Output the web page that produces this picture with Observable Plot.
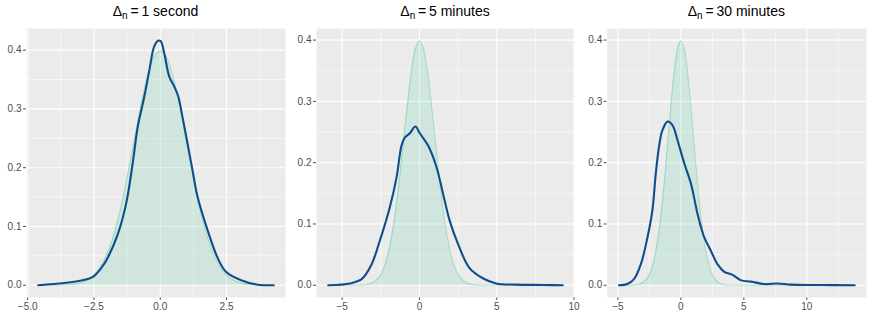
<!DOCTYPE html>
<html>
<head>
<meta charset="utf-8">
<script src="https://cdn.jsdelivr.net/npm/d3@7"></script>
<script src="https://cdn.jsdelivr.net/npm/@observablehq/plot@0.6"></script>
<style>
  html, body { margin: 0; padding: 0; background: #fff; }
  #root { position: relative; width: 872px; height: 317px; font-family: "Liberation Sans", Arial, sans-serif; }
  .panel { position: absolute; top: 0; }
  .title { position: absolute; top: 3px; font-size: 14px; font-weight: normal; color: #000; white-space: nowrap; transform: translateX(-50%); font-family: "Liberation Sans", Arial, sans-serif; }
  .title sub { font-size: 10px; vertical-align: -3px; line-height: 0; }
</style>
</head>
<body>
<div id="root"></div>
<script>
// Titles
const titles = ["1 second", "5 minutes", "30 minutes"];

// Reference standard normal density
const normalX = [-5, -4.5, -4, -3.75, -3.5, -3.25, -3, -2.75, -2.5, -2.25, -2, -1.75, -1.5, -1.25, -1, -0.75, -0.5, -0.25, 0,
                 0.25, 0.5, 0.75, 1, 1.25, 1.5, 1.75, 2, 2.25, 2.5, 2.75, 3, 3.25, 3.5, 3.75, 4, 4.5, 5, 6, 8, 10, 12, 14];
const normalY = [0, 0, 0.0001, 0.0004, 0.0009, 0.0020, 0.0044, 0.0091, 0.0175, 0.0317, 0.0540, 0.0863, 0.1295, 0.1826, 0.2420, 0.3011, 0.3521, 0.3867, 0.3989,
                 0.3867, 0.3521, 0.3011, 0.2420, 0.1826, 0.1295, 0.0863, 0.0540, 0.0317, 0.0175, 0.0091, 0.0044, 0.0020, 0.0009, 0.0004, 0.0001, 0, 0, 0, 0, 0, 0, 0];

// Empirical densities (blue curves)
const sec1X = [-4.6, -3.37, -2.93, -2.55, -2.23, -1.98, -1.6, -1.29, -1.04, -0.85, -0.6, -0.41, -0.23, -0.08, 0.02, 0.15, 0.34, 0.53, 0.68, 0.84, 1.03, 1.22, 1.41, 1.79, 2.16, 2.48, 3.05, 3.68, 4.28];
const sec1Y = [0, 0.005, 0.0085, 0.014, 0.029, 0.047, 0.087, 0.138, 0.207, 0.269, 0.321, 0.366, 0.406, 0.416, 0.415, 0.395, 0.355, 0.338, 0.321, 0.286, 0.241, 0.195, 0.15, 0.093, 0.047, 0.023, 0.0085, 0.001, 0];

const min5X = [-5.9, -4.5, -3.74, -3.1, -2.56, -1.92, -1.48, -1.16, -0.95, -0.62, -0.26, 0.02, 0.56, 1.1, 1.53, 1.96, 2.5, 3.24, 4.1, 4.96, 6.26, 7.98, 9.27];
const min5Y = [0, 0.003, 0.01, 0.034, 0.073, 0.127, 0.176, 0.228, 0.241, 0.248, 0.259, 0.248, 0.228, 0.193, 0.149, 0.105, 0.067, 0.028, 0.0115, 0.003, 0.001, 0.0005, 0];

const min30X = [-4.91, -4.25, -3.72, -3.18, -2.65, -2.26, -1.99, -1.72, -1.46, -1.06, -0.66, -0.27, 0.27, 0.8, 1.33, 1.86, 2.39, 2.92, 3.45, 4.11, 4.78, 5.57, 6.63, 7.69, 8.75, 10.9, 13.8];
const min30Y = [0, 0.002, 0.01, 0.034, 0.078, 0.122, 0.182, 0.228, 0.253, 0.267, 0.261, 0.237, 0.199, 0.166, 0.116, 0.078, 0.056, 0.034, 0.022, 0.017, 0.008, 0.006, 0.002, 0.003, 0.001, 0.0005, 0];

// Axis ticks
const yTicks = [0, 0.1, 0.2, 0.3, 0.4];
const yMinor = [0.05, 0.15, 0.25, 0.35];
const xTicks1 = [-5, -2.5, 0, 2.5];
const xMinor1 = [-3.75, -1.25, 1.25, 3.75];
const xTicks2 = [-5, 0, 5, 10];
const xMinor2 = [-2.5, 2.5, 7.5];
const xTicks3 = [-5, 0, 5, 10];
const xMinor3 = [-2.5, 2.5, 7.5, 12.5];

const panels = [
  {xs: sec1X, ys: sec1Y, ticks: xTicks1, minor: xMinor1, fmt: ".1f", left: 0, width: 290, ml: 26, mr: 5, yMax: 0.4368},
  {xs: min5X, ys: min5Y, ticks: xTicks2, minor: xMinor2, fmt: "d", left: 290, width: 290, ml: 26, mr: 6, yMax: 0.4189},
  {xs: min30X, ys: min30Y, ticks: xTicks3, minor: xMinor3, fmt: "d", left: 580, width: 292, ml: 26.7, mr: 6, yMax: 0.4189}
];

const root = document.getElementById("root");

panels.forEach((p, i) => {
  const lo = p.xs[0], hi = p.xs[p.xs.length - 1];
  const pad = 0.05 * (hi - lo);
  const blue = p.xs.map((x, j) => ({x, y: p.ys[j]}));
  const norm = normalX.map((x, j) => ({x, y: normalY[j]})).filter(d => d.x >= lo && d.x <= hi);
  norm.unshift({x: lo, y: 0});
  norm.push({x: hi, y: 0});
  norm.sort((a, b) => a.x - b.x);
  const yMin = -0.05 * p.yMax / 1.05;

  const chart = Plot.plot({
    width: p.width,
    height: 317,
    marginTop: 28,
    marginBottom: 20,
    marginLeft: p.ml,
    marginRight: p.mr,
    style: {fontSize: "10px", fontFamily: "'Liberation Sans', Arial, sans-serif", color: "#4d4d4d", background: "transparent"},
    x: {domain: [lo - pad, hi + pad], ticks: p.ticks, tickFormat: p.fmt, tickSize: 3, tickPadding: 2, label: null},
    y: {domain: [yMin, p.yMax], ticks: yTicks, tickFormat: ".1f", tickSize: 3, tickPadding: 2, label: null},
    marks: [
      Plot.frame({fill: "#EBEBEB", stroke: null}),
      Plot.ruleX(p.minor, {stroke: "white", strokeWidth: 0.55}),
      Plot.ruleY(yMinor, {stroke: "white", strokeWidth: 0.55}),
      Plot.ruleX(p.ticks.filter(t => t >= lo - pad && t <= hi + pad), {stroke: "white", strokeWidth: 1.1}),
      Plot.ruleY(yTicks, {stroke: "white", strokeWidth: 1.1}),
      Plot.areaY(norm, {x: "x", y: "y", fill: "#66CDAA", fillOpacity: 0.2, curve: "catmull-rom"}),
      Plot.lineY(norm, {x: "x", y: "y", stroke: "#66CDAA", strokeOpacity: 0.5, strokeWidth: 1.1, curve: "catmull-rom"}),
      Plot.lineY(blue, {x: "x", y: "y", stroke: "#104E8B", strokeWidth: 2.1, curve: "catmull-rom"})
    ]
  });
  chart.classList.add("panel");
  chart.style.left = p.left + "px";
  root.appendChild(chart);

  const t = document.createElement("div");
  t.className = "title";
  const cx = p.left + p.ml + (p.width - p.ml - p.mr) / 2;
  t.style.left = cx + "px";
  t.innerHTML = "Δ<sub>n</sub>\u2009=\u2009" + titles[i];
  root.appendChild(t);
});
</script>
</body>
</html>
